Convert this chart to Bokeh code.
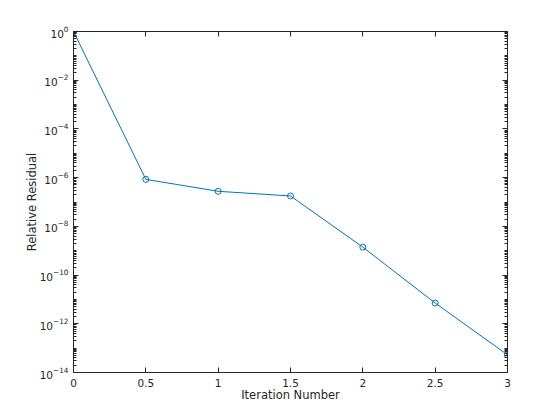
from bokeh.plotting import figure
from bokeh.models import (Range1d, FixedTicker, LogAxis, LinearAxis,
                          LogTickFormatter, CustomJSTickFormatter)
from bokeh.embed import file_html
from bokeh.resources import INLINE

iterations = [0, 0.5, 1, 1.5, 2, 2.5, 3]
residuals = [1.0, 8.5e-7, 2.75e-7, 1.77e-7, 1.4e-9, 7.1e-12, 5.3e-14]
x_ticks = [0, 0.5, 1, 1.5, 2, 2.5, 3]
y_major = [10.0 ** e for e in range(-14, 1, 2)]
y_minor = [m * 10.0 ** e for e in range(-14, 0) for m in range(1, 10)]

FONT = "DejaVu Sans"
AX = "#262626"
BLUE = "#0072BD"

p = figure(width=544, height=404, y_axis_type="log",
           x_range=Range1d(0, 3), y_range=Range1d(1e-14, 1),
           output_backend="svg", toolbar_location=None,
           min_border_left=73, min_border_right=37,
           min_border_top=31, min_border_bottom=31)
p.grid.visible = False
p.outline_line_color = AX
p.outline_line_width = 1
p.background_fill_color = "white"
p.border_fill_color = "white"

p.line(iterations, residuals, line_color=BLUE, line_width=1)
p.scatter(iterations, residuals, marker="circle", size=6,
          fill_color=None, line_color=BLUE, line_width=1)

def style(ax):
    ax.axis_line_color = AX
    ax.major_tick_line_color = AX
    ax.minor_tick_line_color = AX
    ax.major_tick_in = 5
    ax.major_tick_out = 0
    ax.minor_tick_in = 3
    ax.minor_tick_out = 0
    ax.major_label_text_font = FONT
    ax.major_label_text_font_size = "10.5px"
    ax.major_label_text_color = AX
    ax.axis_label_text_font = FONT
    ax.axis_label_text_font_size = "11.5px"
    ax.axis_label_text_font_style = "normal"
    ax.axis_label_text_color = AX

ya = p.yaxis[0]
ya.ticker = FixedTicker(ticks=y_major, minor_ticks=y_minor)
ya.formatter = LogTickFormatter()
ya.axis_label = "Relative Residual"
ya.major_label_standoff = 5
ya.axis_label_standoff = -2
style(ya)

xa = p.xaxis[0]
xa.ticker = FixedTicker(ticks=x_ticks, minor_ticks=[])
xa.axis_label = "Iteration Number"
xa.major_label_standoff = 6
xa.axis_label_standoff = -2
style(xa)

blank = CustomJSTickFormatter(code="return '';")
ra = LogAxis(ticker=FixedTicker(ticks=y_major, minor_ticks=y_minor), formatter=blank)
style(ra)
p.add_layout(ra, "right")
ta = LinearAxis(ticker=FixedTicker(ticks=x_ticks, minor_ticks=[]), formatter=blank)
style(ta)
p.add_layout(ta, "above")

open("out.html", "w").write(file_html(p, INLINE))
